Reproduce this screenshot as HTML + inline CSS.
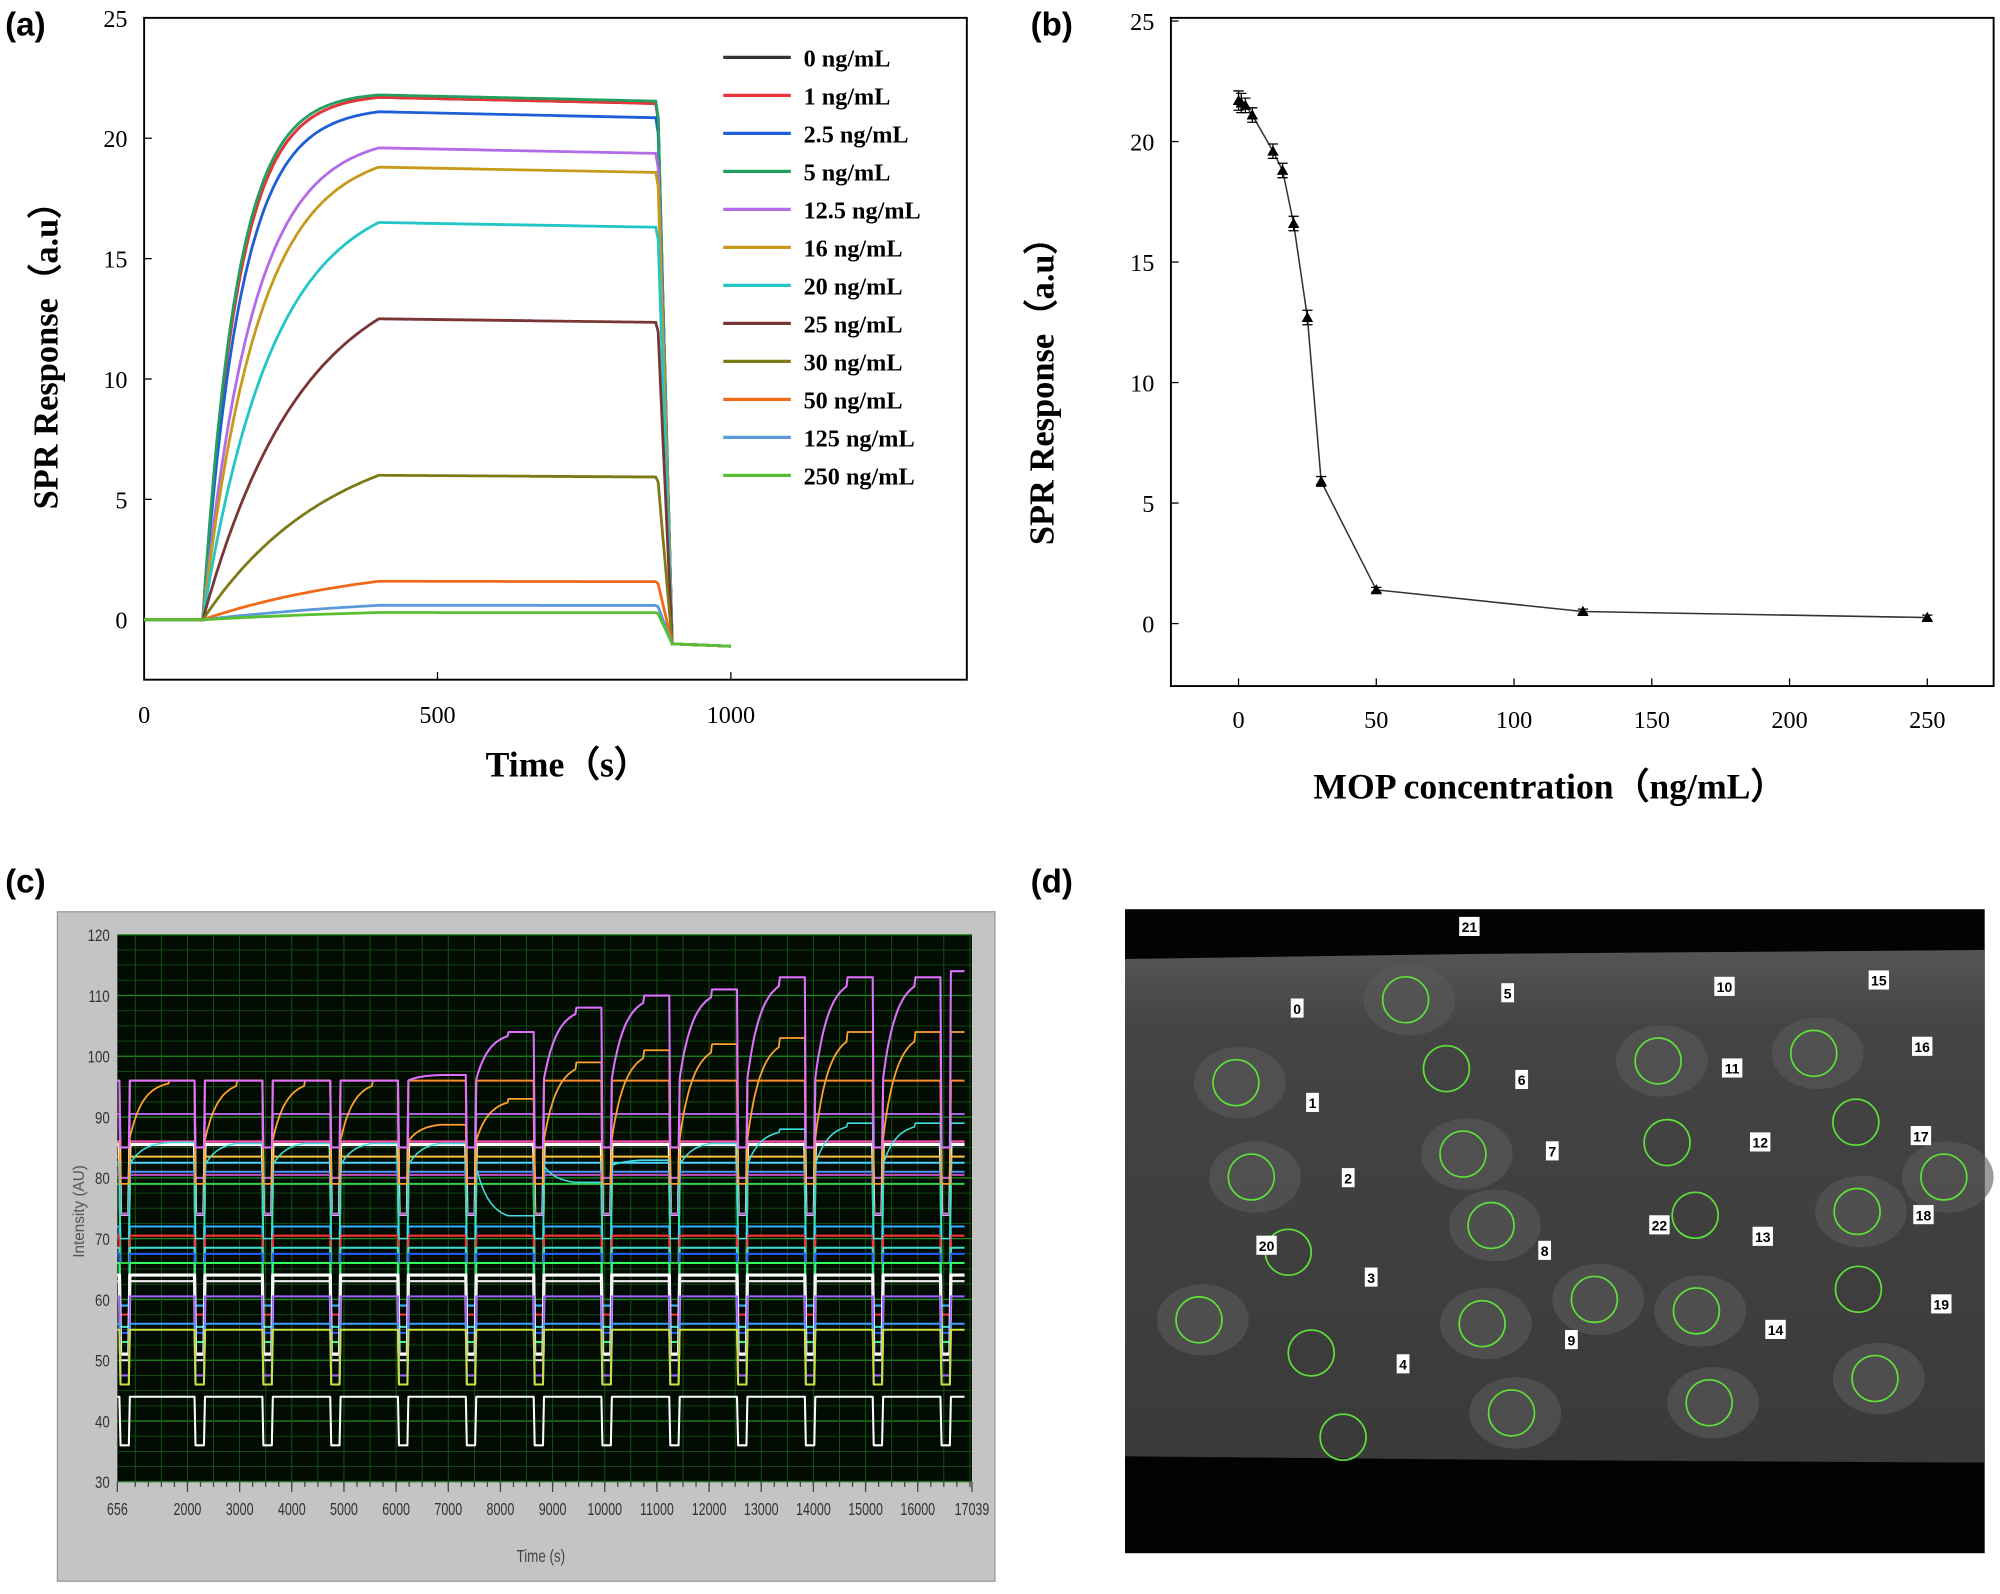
<!DOCTYPE html>
<html><head><meta charset="utf-8"><style>
html,body{margin:0;padding:0;background:#fff}
svg{display:block}
.t{font-family:"Liberation Serif",serif;font-weight:bold}
.n{font-family:"Liberation Serif",serif;font-weight:normal}
.s{font-family:"Liberation Sans",sans-serif}
</style></head><body>
<svg id="root" width="2000" height="1594" viewBox="0 0 1568 1250" preserveAspectRatio="none" xmlns="http://www.w3.org/2000/svg">
<defs><linearGradient id="chipg" x1="0" y1="0" x2="0" y2="1"><stop offset="0" stop-color="#555"/><stop offset="0.15" stop-color="#444"/><stop offset="1" stop-color="#3a3a3a"/></linearGradient></defs>
<g id="pa"></g>
<g id="pb"></g>
<g id="pc"></g>
<g id="pd"></g>
</svg>
<script>
// ---------- Panel (a) data ----------
const aLabels=["0 ng/mL","1 ng/mL","2.5 ng/mL","5 ng/mL","12.5 ng/mL","16 ng/mL","20 ng/mL","25 ng/mL","30 ng/mL","50 ng/mL","125 ng/mL","250 ng/mL"];
const aPlateau=[21.7,21.7,21.1,21.8,19.6,18.8,16.5,12.5,6.0,1.6,0.6,0.3];
const aTau=[60,60,65,58,85,95,120,170,220,300,400,400];
const aColors=["#333333","#e8353a","#1f5fd6","#22a060","#b36be8","#c89a1a","#22c6c6","#7a3535","#7d7a18","#f06a1a","#5a9ad8","#58c030"];
const aYTicks=[0,5,10,15,20,25];
const aXTicks=[0,500,1000];
// ---------- Panel (b) data ----------
const bConc=[0,1,2.5,5,12.5,16,20,25,30,50,125,250];
const bResp=[21.7,21.6,21.5,21.1,19.6,18.8,16.6,12.7,5.9,1.4,0.5,0.25];
const bErr=[0.4,0.4,0.3,0.3,0.3,0.3,0.3,0.3,0.2,0.1,0.1,0.1];
const bYTicks=[0,5,10,15,20,25];
const bXTicks=[0,50,100,150,200,250];
// ---------- Panel (c) data ----------
const cBase=[96,90.5,86,85.5,83.5,82.5,81,80.5,79,72,70.5,68.5,67.5,66,64,63,60.5,56,55,44];
const cColors=["#ff8c2a","#b060e0","#ff4fb0","#ffffff","#ffc040","#4fd0ff","#5090ff","#c050c0","#30d050","#30b0ff","#ff3030","#40e0d0","#2060ff","#30ff60","#ffffff","#f0f0f0","#a060ff","#40a0ff","#d0e040","#ffffff"];
const cDips=[700,2150,3450,4750,6050,7350,8650,9950,11250,12550,13850,15150,16450];
const cPeakMag=[96,96,96,96,97,104,108,110,111,113,113,113,114];
const cPeakOr=[96,96,96,96,89,93,99,101,102,103,104,104,104];
const cPeakCy=[86,86,86,86,86,73,79,83,86,88,89,89,89];
const cYTicks=[30,40,50,60,70,80,90,100,110,120];
const cXTicks=[656,2000,3000,4000,5000,6000,7000,8000,9000,10000,11000,12000,13000,14000,15000,16000,17039];
// ---------- Panel (d) data ----------
const dCircles=[[1102,784],[1134,838],[1300,832],[1422,826],[969,849],[1455,880],[1147,905],[1307,896],[981,923],[1524,923],[1169,961],[1329,953],[1456,950],[1010,982],[1250,1019],[1162,1038],[1330,1028],[1457,1011],[940,1035],[1028,1061],[1470,1081],[1185,1108],[1340,1100],[1053,1127]];
const dLabels=[["21",1152,727],["0",1017,791],["5",1182,779],["10",1352,774],["15",1473,769],["16",1507,821],["6",1193,847],["11",1358,838],["1",1029,865],["17",1506,891],["12",1380,896],["7",1217,903],["2",1057,924],["18",1508,953],["22",1301,961],["13",1382,970],["8",1211,981],["20",993,977],["3",1075,1002],["19",1522,1023],["14",1392,1043],["9",1232,1051],["4",1100,1070]];

const NS="http://www.w3.org/2000/svg";
function mk(p,tag,at,txt){const e=document.createElementNS(NS,tag);for(const k in at)e.setAttribute(k,at[k]);if(txt!==undefined)e.textContent=txt;p.appendChild(e);return e;}

// ===== Panel A =====
(function(){
const g=document.getElementById('pa');
const X=t=>113+t*0.46, Y=v=>486-v*18.88;
let e=mk(g,'text',{x:4,y:28,class:'s','font-size':26,'font-weight':'bold'},'(a)');

e=mk(g,'rect',{x:113,y:14,width:645,height:519,fill:'none',stroke:'#000','stroke-width':1.5});

aYTicks.forEach(v=>{mk(g,'line',{x1:113,x2:119,y1:Y(v),y2:Y(v),stroke:'#000'});
 e=mk(g,'text',{x:100,y:Y(v)+7,class:'n','font-size':19,'text-anchor':'end'},v);
 });
aXTicks.forEach(v=>{mk(g,'line',{x1:X(v),x2:X(v),y1:533,y2:527,stroke:'#000'});
 e=mk(g,'text',{x:X(v),y:567,class:'n','font-size':19,'text-anchor':'middle'},v);
 });
e=mk(g,'text',{x:445,y:609,class:'t','font-size':28,'text-anchor':'middle'},'Time（s）');

e=mk(g,'text',{x:0,y:0,class:'t','font-size':27,'text-anchor':'middle',transform:'translate(45,272) rotate(-90)'},'SPR Response（a.u）');

aPlateau.forEach((p,i)=>{
 let d='';
 for(let t=0;t<=1000;t+=4){
  let v;
  if(t<100)v=0;
  else if(t<=400){const f=(1-Math.exp(-(t-100)/aTau[i]))/(1-Math.exp(-300/aTau[i]));v=p*f;}
  else if(t<=875)v=p-(t-400)*0.0005*p/20;
  else if(t<=900)v=p+(-1-p)*(t-875)/25;
  else v=-1-(t-900)*0.001;
  d+=(t?'L':'M')+X(t).toFixed(1)+','+Y(v).toFixed(1);
 }
 e=mk(g,'path',{d:d,fill:'none',stroke:aColors[i],'stroke-width':2.2});
 
 const ly=45+i*29.8;
 e=mk(g,'line',{x1:567,x2:620,y1:ly,y2:ly,stroke:aColors[i],'stroke-width':2.5});
 
 e=mk(g,'text',{x:630,y:ly+7,class:'t','font-size':19},aLabels[i]);
 
});
})();

// ===== Panel B =====
(function(){
const g=document.getElementById('pb');
const X=c=>971+c*2.16, Y=v=>489-v*18.9;
let e=mk(g,'text',{x:808,y:28,class:'s','font-size':26,'font-weight':'bold'},'(b)');

e=mk(g,'rect',{x:918,y:14,width:645,height:524,fill:'none',stroke:'#000','stroke-width':1.5});

bYTicks.forEach(v=>{mk(g,'line',{x1:918,x2:924,y1:Y(v),y2:Y(v),stroke:'#000'});
 e=mk(g,'text',{x:905,y:Y(v)+7,class:'n','font-size':19,'text-anchor':'end'},v);
 });
bXTicks.forEach(v=>{mk(g,'line',{x1:X(v),x2:X(v),y1:538,y2:532,stroke:'#000'});
 e=mk(g,'text',{x:X(v),y:571,class:'n','font-size':19,'text-anchor':'middle'},v);
 });
e=mk(g,'text',{x:1215,y:626,class:'t','font-size':28,'text-anchor':'middle'},'MOP concentration（ng/mL）');

e=mk(g,'text',{x:0,y:0,class:'t','font-size':27,'text-anchor':'middle',transform:'translate(826,300) rotate(-90)'},'SPR Response（a.u）');

let d='';bConc.forEach((c,i)=>{d+=(i?'L':'M')+X(c)+','+Y(bResp[i]);});
e=mk(g,'path',{d:d,fill:'none',stroke:'#333','stroke-width':1.2});

bConc.forEach((c,i)=>{
 const x=X(c),y=Y(bResp[i]),h=bErr[i]*18.9;
 mk(g,'path',{d:`M${x},${y-h}V${y+h}M${x-4},${y-h}H${x+4}M${x-4},${y+h}H${x+4}`,stroke:'#000','stroke-width':1});
 e=mk(g,'path',{d:`M${x},${y-4.5}L${x+4.5},${y+3.5}L${x-4.5},${y+3.5}Z`,fill:'#000'});
 
});
})();

// ===== Panel C =====
(function(){
const g=document.getElementById('pc');
const x0=92,x1=762,y0=733,y1=1162;
const X=t=>x0+(t-656)/(17039-656)*(x1-x0), Y=v=>y1-(v-30)/90*(y1-y0);
let e=mk(g,'text',{x:4,y:700,class:'s','font-size':26,'font-weight':'bold'},'(c)');

e=mk(g,'rect',{x:45,y:715,width:735,height:525,fill:'#c4c4c4',stroke:'#9a9a9a'});

e=mk(g,'rect',{x:x0,y:y0,width:x1-x0,height:y1-y0,fill:'#020c02'});

for(let v=30;v<=120;v+=2.5)mk(g,'line',{x1:x0,x2:x1,y1:Y(v),y2:Y(v),stroke:(v%10==0)?'#1f8a1f':'#124d12','stroke-width':(v%10==0)?1:0.7});
for(let t=1000;t<17039;t+=500)mk(g,'line',{x1:X(t),x2:X(t),y1:y0,y2:y1,stroke:'#145a14','stroke-width':0.7});
cYTicks.forEach(v=>{e=mk(g,'text',{x:86,y:Y(v)+5,class:'s','font-size':13,'text-anchor':'end',fill:'#333',transform:`translate(${86*0.2},0) scale(0.8,1)`},v);
 });
for(let t=1000;t<17039;t+=250)mk(g,'line',{x1:X(t),x2:X(t),y1:y1,y2:y1+4,stroke:'#444'});
cXTicks.forEach(v=>{mk(g,'line',{x1:X(v),x2:X(v),y1:y1,y2:y1+8,stroke:'#444'});
 e=mk(g,'text',{x:0,y:y1+26,class:'s','font-size':14,'text-anchor':'middle',fill:'#333',transform:`translate(${X(v)},0) scale(0.7,1)`},v);
 });
e=mk(g,'text',{x:0,y:0,class:'s','font-size':12,'text-anchor':'middle',fill:'#555',transform:'translate(66,950) rotate(-90)'},'Intensity (AU)');

e=mk(g,'text',{x:0,y:1225,class:'s','font-size':14,'text-anchor':'middle',fill:'#444',transform:'translate(424,0) scale(0.75,1)'},'Time (s)');

function trace(levels,base,color,dipDepth,w){
 let d='';
 for(let t=656;t<=16900;t+=20){
  let k=0;for(let j=0;j<cDips.length;j++)if(t>=cDips[j])k=j;
  let v;
  const since=t-cDips[k]-180;
  if(since<0) v=dipDepth;
  else {
    const nxt=cDips[k+1]||17100;
    if(t>nxt-500) v=base+(levels[k]-base)*(1-Math.exp(-Math.max(0,nxt-500-cDips[k]-180)/250));
    else v=base+(levels[k]-base)*(1-Math.exp(-since/250));
    if(t>nxt-500 && levels[k]>base+4) v=levels[k];
  }
  if(t<cDips[0]+180 && t<cDips[0]) v=base;
  d+=(t==656?'M':'L')+X(t).toFixed(1)+','+Y(v).toFixed(1);
 }
 e=mk(g,'path',{d:d,fill:'none',stroke:color,'stroke-width':w,'stroke-linejoin':'round'});
 
}
cBase.forEach((b,i)=>{
 const lv=cDips.map(()=>b);
 const dip=b>80?(b>88?80:74):(b>60?b-13:(b>50?46:36));
 trace(lv,b,cColors[i],dip,(i==14||i==3)?2.5:1.6);
});
trace(cPeakCy,82,'#40e0e0',70,1.2);
trace(cPeakOr,86,'#ffa030',79,1.4);
trace(cPeakMag,96,'#e070ff',85,1.6);
})();

// ===== Panel D =====
(function(){
const g=document.getElementById('pd');
let e=mk(g,'text',{x:808,y:700,class:'s','font-size':26,'font-weight':'bold'},'(d)');

e=mk(g,'rect',{x:882,y:713,width:674,height:505,fill:'#030303'});

e=mk(g,'path',{d:'M882,752 L1160,748 L1556,745 L1556,1147 L1200,1145 L882,1142 Z',fill:'url(#chipg)'});

dCircles.forEach((c,i)=>{
 if(i%2==0||i%3==0)mk(g,'ellipse',{cx:c[0]+3,cy:c[1],rx:36,ry:28,fill:'#5a5a5a',opacity:0.6});
});
dCircles.forEach(c=>{
 e=mk(g,'circle',{cx:c[0],cy:c[1],r:18,fill:'none',stroke:'#5ee03a','stroke-width':1.3});
 
});
dLabels.forEach(l=>{
 const w=l[0].length>1?16:10;
 mk(g,'rect',{x:l[1]-w/2,y:l[2]-8,width:w,height:15,fill:'#fff'});
 e=mk(g,'text',{x:l[1],y:l[2]+4,class:'s','font-size':11,'font-weight':'bold','text-anchor':'middle'},l[0]);
 
});
})();
</script>
</body></html>
